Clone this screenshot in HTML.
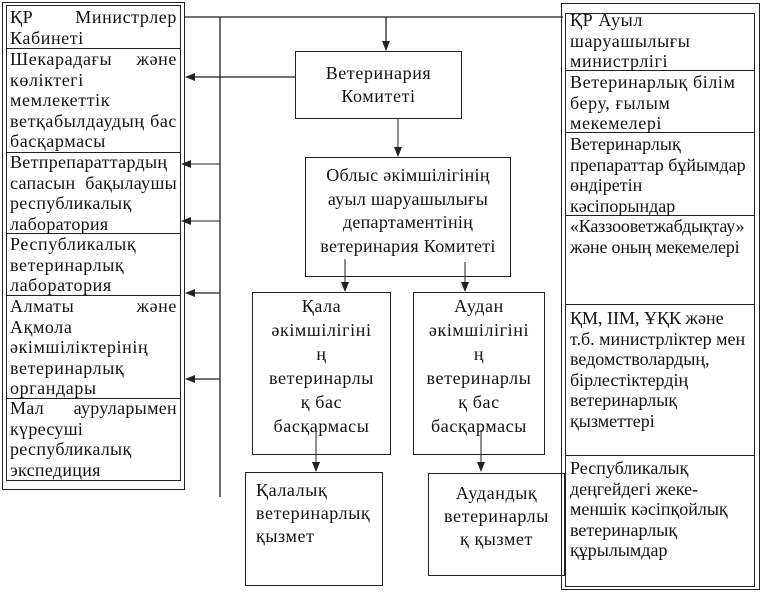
<!DOCTYPE html>
<html><head><meta charset="utf-8"><style>
body{margin:0;width:762px;height:600px;background:#fff;position:relative;overflow:hidden;font-family:"Liberation Serif",serif;font-size:18px;letter-spacing:0.6px;line-height:20.6px;color:#111}
.b{position:absolute;box-sizing:border-box;border:1.3px solid #222}
.c{position:absolute;box-sizing:border-box;padding:0 4px;white-space:nowrap}
.c div{white-space:nowrap}
.s{display:flex;justify-content:space-between}
.ctr{text-align:center;white-space:nowrap}
.l{position:absolute;background:#222}
</style></head><body>
<svg width="762" height="600" style="position:absolute;left:0;top:0">
<defs><marker id="a" markerWidth="10" markerHeight="8" refX="9" refY="4" orient="auto" markerUnits="userSpaceOnUse"><path d="M0,0 L10,4 L0,8z" fill="#222"/></marker></defs>
<g stroke="#222" stroke-width="1.3" fill="none">
<line x1="185" y1="17" x2="563" y2="17"/>
<line x1="220" y1="17" x2="220" y2="497"/>
<line x1="386" y1="17" x2="386" y2="50" marker-end="url(#a)"/>
<line x1="295" y1="77" x2="186" y2="77" marker-end="url(#a)"/>
<line x1="220" y1="164" x2="182" y2="164" marker-end="url(#a)" stroke-width="1"/>
<line x1="220" y1="221" x2="182" y2="221" marker-end="url(#a)" stroke-width="1"/>
<line x1="220" y1="293" x2="186" y2="293" marker-end="url(#a)"/>
<line x1="220" y1="379" x2="186" y2="379" marker-end="url(#a)"/>
<line x1="398" y1="119" x2="398" y2="156" marker-end="url(#a)" stroke-width="1"/>
<line x1="345" y1="259" x2="345" y2="291" marker-end="url(#a)" stroke-width="1"/>
<line x1="465" y1="262" x2="465" y2="291" marker-end="url(#a)" stroke-width="1"/>
<line x1="316" y1="430" x2="316" y2="471" marker-end="url(#a)" stroke-width="1"/>
<line x1="481" y1="430" x2="481" y2="471" marker-end="url(#a)" stroke-width="1"/>
</g></svg>

<div class="b" style="left:2px;top:2px;width:183px;height:488px"></div>
<div class="b" style="left:6px;top:5px;width:175px;height:476px"></div>
<div class="l" style="left:6px;top:48px;width:175px;height:1px"></div>
<div class="l" style="left:6px;top:152px;width:175px;height:1px"></div>
<div class="l" style="left:6px;top:233px;width:175px;height:1px"></div>
<div class="l" style="left:6px;top:295px;width:175px;height:1px"></div>
<div class="l" style="left:6px;top:398px;width:175px;height:1px"></div>
<div class="c" style="left:6px;top:7px;width:175px"><div class="s"><span>ҚР</span><span>Министрлер</span></div><div>Кабинеті</div></div>
<div class="c" style="left:6px;top:49px;width:175px"><div class="s"><span>Шекарадағы</span><span>және</span></div><div>көліктегі</div><div>мемлекеттік</div><div class="s"><span>ветқабылдаудың</span><span>бас</span></div><div>басқармасы</div></div>
<div class="c" style="left:6px;top:152px;width:175px;letter-spacing:0.3px"><div>Ветпрепараттардың</div><div class="s"><span>сапасын</span><span>бақылаушы</span></div><div>республикалық</div><div>лаборатория</div></div>
<div class="c" style="left:6px;top:234px;width:175px"><div>Республикалық</div><div>ветеринарлық</div><div>лаборатория</div></div>
<div class="c" style="left:6px;top:296px;width:175px"><div class="s"><span>Алматы</span><span>және</span></div><div>Ақмола</div><div>әкімшіліктерінің</div><div>ветеринарлық</div><div>органдары</div></div>
<div class="c" style="left:6px;top:398px;width:175px;letter-spacing:0.3px"><div class="s"><span>Мал</span><span>ауруларымен</span></div><div>күресуші</div><div>республикалық</div><div>экспедиция</div></div>

<div class="b ctr" style="left:295px;top:51px;width:167px;height:68px;padding-top:10px;line-height:23px">Ветеринария<br>Комитеті</div>
<div class="b ctr" style="left:305px;top:157px;width:206px;height:120px;padding-top:6px;letter-spacing:0.3px;line-height:23.5px">Облыс әкімшілігінің<br>ауыл шаруашылығы<br>департаментінің<br>ветеринария Комитеті</div>
<div class="b ctr" style="left:252px;top:292px;width:139px;height:163px;padding-top:1px;line-height:24px">Қала<br>әкімшілігіні<br>ң<br>ветеринарлы<br>қ бас<br>басқармасы</div>
<div class="b ctr" style="left:413px;top:292px;width:132px;height:163px;padding-top:1px;line-height:24px">Аудан<br>әкімшілігіні<br>ң<br>ветеринарлы<br>қ бас<br>басқармасы</div>
<div class="b" style="left:245px;top:472px;width:138px;height:114px;padding:6px 0 0 10px;white-space:nowrap;line-height:23px">Қалалық<br>ветеринарлық<br>қызмет</div>
<div class="b ctr" style="left:428px;top:473px;width:137px;height:103px;padding-top:8px;line-height:23px">Аудандық<br>ветеринарлы<br>қ қызмет</div>

<div class="b" style="left:561px;top:3px;width:199px;height:587px"></div>
<div class="b" style="left:565px;top:13px;width:190px;height:574px"></div>
<div class="l" style="left:565px;top:70px;width:190px;height:1px"></div>
<div class="l" style="left:565px;top:132px;width:190px;height:1px"></div>
<div class="l" style="left:565px;top:215px;width:190px;height:1px"></div>
<div class="l" style="left:565px;top:304px;width:190px;height:1px"></div>
<div class="l" style="left:565px;top:455px;width:190px;height:1px"></div>
<div class="c" style="left:566px;top:10px;width:190px">ҚР Ауыл<br>шаруашылығы<br>министрлігі</div>
<div class="c" style="left:566px;top:72px;width:190px">Ветеринарлық білім<br>беру, ғылым<br>мекемелері</div>
<div class="c" style="left:566px;top:134px;width:190px;letter-spacing:0px">Ветеринарлық<br>препараттар бұйымдар<br>өндіретін<br>кәсіпорындар</div>
<div class="c" style="left:566px;top:216px;width:190px;letter-spacing:-0.2px">«Каззооветжабдықтау»<br>және оның мекемелері</div>
<div class="c" style="left:566px;top:308px;width:190px;letter-spacing:0px">ҚМ, ІІМ, ҰҚК және<br>т.б. министрліктер мен<br>ведомстволардың,<br>бірлестіктердің<br>ветеринарлық<br>қызметтері</div>
<div class="c" style="left:566px;top:458px;width:190px;letter-spacing:0px">Республикалық<br>деңгейдегі жеке-<br>меншік кәсіпқойлық<br>ветеринарлық<br>құрылымдар</div>
</body></html>
